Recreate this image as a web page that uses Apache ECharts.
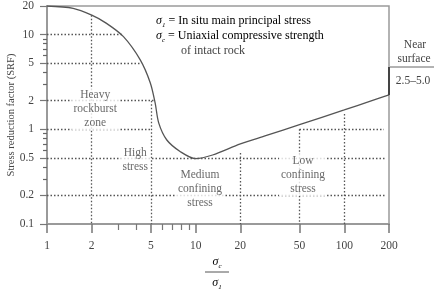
<!DOCTYPE html>
<html>
<head>
<meta charset="utf-8">
<script src="https://cdn.jsdelivr.net/npm/echarts@6/dist/echarts.min.js"></script>
<style>
html, body { margin: 0; padding: 0; background: #fff; }
#main { width: 438px; height: 291px; }
</style>
</head>
<body>
<div id="main"></div>
<script>
// SRF curve (sigma_c / sigma_1 -> SRF)
var srf_x = [1, 1.5, 2, 2.5, 3.27, 4.24, 4.95, 5.34, 5.65, 6.4, 7.9, 10, 13, 20, 30, 50, 100, 150, 200];
var srf_y = [20, 18.9, 16, 13.2, 9.5, 5.4, 3.1, 1.9, 1.16, 0.77, 0.58, 0.49, 0.535, 0.7, 0.86, 1.12, 1.6, 1.98, 2.3];

// tick values
var x_major = [1, 2, 5, 10, 20, 50, 100, 200];
var x_minor = [3, 4, 6, 7, 8, 9];
var y_major = [0.1, 0.2, 0.5, 1, 2, 5, 10, 20];
var y_minor = [0.3, 0.4, 0.6, 0.7, 0.8, 0.9, 3, 4, 6, 7, 8, 9];

// dotted guide segments [x1, y1, x2, y2]
var guide_segs = [
    [1, 10, 3.25, 10],
    [1, 5, 4.25, 5],
    [1, 2, 5.3, 2],
    [1, 1, 5, 1],
    [1, 0.5, 188, 0.5],
    [1, 0.2, 188, 0.2],
    [50, 1, 185, 1],
    [2, 16, 2, 0.1],
    [5, 2, 5, 0.1],
    [20, 0.56, 20, 0.1],
    [50, 1, 50, 0.1],
    [100, 1.45, 100, 0.1]
];

// zone labels
var zone_names = ["Heavy\nrockburst\nzone", "High\nstress", "Medium\nconfining\nstress", "Low\nconfining\nstress"];
var zone_x = [2.11, 3.92, 10.7, 52.8];
var zone_y = [1.63, 0.47, 0.234, 0.33];

// near surface range
var near_x = [200, 200];
var near_y = [4.55, 2.3];

var serif = "'Liberation Serif', 'DejaVu Serif', serif";
var txt_color = '#444';
var axis_color = '#9a9a9a';

var chart = echarts.init(document.getElementById('main'));

var curve_data = [];
for (var i = 0; i < srf_x.length; i++) {
    curve_data.push([srf_x[i], srf_y[i]]);
}
var seg_data = [];
for (var i = 0; i < guide_segs.length; i++) {
    var s = guide_segs[i];
    seg_data.push({ coords: [[s[0], s[1]], [s[2], s[3]]] });
}
var zone_data = [];
for (var i = 0; i < zone_names.length; i++) {
    zone_data.push({ name: zone_names[i], value: [zone_x[i], zone_y[i]] });
}

function fmt(v) {
    return String(+Number(v).toPrecision(3));
}

var sub_rich = {
    s: { fontFamily: serif, fontSize: 12, fontStyle: 'italic', color: txt_color, lineHeight: 15 },
    sub: { fontFamily: serif, fontSize: 7, fontStyle: 'italic', color: txt_color, verticalAlign: 'bottom', lineHeight: 11 },
    t: { fontFamily: serif, fontSize: 12, color: txt_color, lineHeight: 15 }
};

var option = {
    animation: false,
    grid: {
        left: 47, right: 49, top: 6, bottom: 67,
        containLabel: false,
        outerBoundsMode: 'none',
        show: true,
        borderColor: axis_color,
        borderWidth: 1.5
    },
    xAxis: [{
        type: 'log',
        logBase: 10,
        min: 1,
        max: 200,
        axisLine: { lineStyle: { color: axis_color, width: 2 } },
        axisTick: { customValues: x_major, length: 9, lineStyle: { color: '#777', width: 1.5 } },
        axisLabel: {
            customValues: x_major,
            formatter: fmt,
            margin: 16,
            fontFamily: serif,
            fontSize: 11.5,
            color: txt_color
        },
        splitLine: { show: false }
    }, {
        type: 'log',
        logBase: 10,
        min: 1,
        max: 200,
        position: 'bottom',
        axisLine: { show: false },
        axisTick: { customValues: x_minor, length: 6, lineStyle: { color: '#777', width: 1.2 } },
        axisLabel: { show: false },
        splitLine: { show: false }
    }],
    yAxis: [{
        type: 'log',
        logBase: 10,
        min: 0.1,
        max: 20,
        name: 'Stress reduction factor (SRF)',
        nameLocation: 'middle',
        nameGap: 30,
        nameMoveOverlap: false,
        nameTextStyle: { fontFamily: serif, fontSize: 10.5, color: txt_color },
        axisLine: { lineStyle: { color: axis_color, width: 2 } },
        axisTick: { customValues: y_major, length: 7, lineStyle: { color: '#777', width: 1.2 } },
        axisLabel: {
            customValues: y_major,
            formatter: fmt,
            margin: 13,
            fontFamily: serif,
            fontSize: 11.5,
            color: txt_color
        },
        splitLine: { show: false }
    }, {
        type: 'log',
        logBase: 10,
        min: 0.1,
        max: 20,
        position: 'left',
        offset: 0,
        axisLine: { show: false },
        axisTick: { show: true, customValues: y_minor, length: 4, lineStyle: { color: '#666', width: 1.2 } },
        axisLabel: { show: false },
        splitLine: { show: false }
    }],
    series: [{
        type: 'lines',
        coordinateSystem: 'cartesian2d',
        xAxisIndex: 0,
        yAxisIndex: 0,
        z: 2,
        silent: true,
        lineStyle: { color: '#555', width: 1.3, type: [1.5, 2], opacity: 1 },
        data: seg_data
    }, {
        type: 'line',
        xAxisIndex: 0,
        yAxisIndex: 0,
        z: 3,
        data: curve_data,
        smooth: 0.3,
        symbol: 'none',
        lineStyle: { color: '#555', width: 1.3 }
    }, {
        type: 'line',
        xAxisIndex: 0,
        yAxisIndex: 0,
        z: 4,
        data: [[near_x[0], near_y[0]], [near_x[1], near_y[1]]],
        symbol: 'none',
        clip: false,
        lineStyle: { color: '#444', width: 2 }
    }, {
        type: 'scatter',
        xAxisIndex: 0,
        yAxisIndex: 0,
        z: 5,
        symbolSize: 1,
        itemStyle: { color: 'rgba(0,0,0,0)' },
        data: zone_data,
        label: {
            show: true,
            position: 'inside',
            formatter: '{b}',
            fontFamily: serif,
            fontSize: 11.5,
            lineHeight: 14,
            color: txt_color,
            backgroundColor: '#fff',
            padding: [0, 2]
        }
    }, {
        // carries the minor y axis so that it is laid out
        type: 'line',
        xAxisIndex: 1,
        yAxisIndex: 1,
        data: [],
        silent: true
    }],
    graphic: [
        // legend
        { type: 'text', left: 156, top: 15, style: { text: '{s|σ}{sub|1}{t| = In situ main principal stress}', rich: sub_rich } },
        { type: 'text', left: 156, top: 30, style: { text: '{s|σ}{sub|c}{t| = Uniaxial compressive strength}', rich: sub_rich } },
        { type: 'text', left: 181, top: 45, style: { text: 'of intact rock', font: '12px ' + serif, fill: txt_color } },
        // near surface box
        { type: 'text', x: 415, y: 45, style: { text: 'Near', font: '11.5px ' + serif, fill: txt_color, align: 'center', verticalAlign: 'middle' } },
        { type: 'text', x: 414, y: 59, style: { text: 'surface', font: '11.5px ' + serif, fill: txt_color, align: 'center', verticalAlign: 'middle' } },
        { type: 'line', shape: { x1: 390, y1: 67, x2: 434, y2: 67 }, style: { stroke: '#666', lineWidth: 1 } },
        { type: 'text', x: 413, y: 81, style: { text: '2.5–5.0', font: '11.5px ' + serif, fill: txt_color, align: 'center', verticalAlign: 'middle' } },
        // x axis title (fraction)
        { type: 'text', x: 217, y: 262, style: { text: '{s|σ}{sub|c}', rich: sub_rich, align: 'center', verticalAlign: 'middle' } },
        { type: 'line', shape: { x1: 205, y1: 272, x2: 229, y2: 272 }, style: { stroke: '#555', lineWidth: 1 } },
        { type: 'text', x: 217, y: 283, style: { text: '{s|σ}{sub|1}', rich: sub_rich, align: 'center', verticalAlign: 'middle' } }
    ]
};

chart.setOption(option);
</script>
</body>
</html>
